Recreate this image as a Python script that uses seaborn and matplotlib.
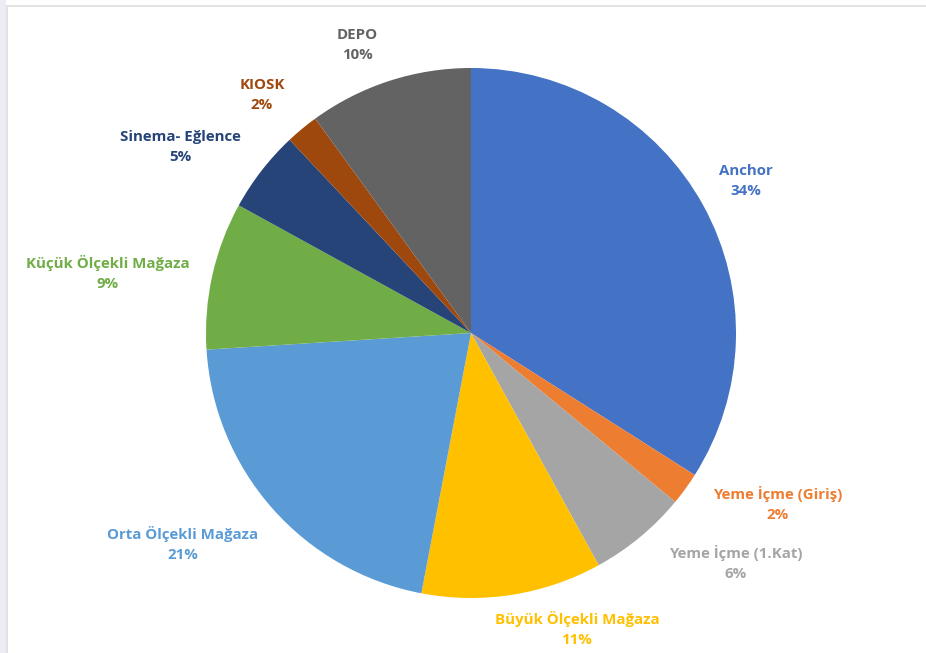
import matplotlib.pyplot as plt
import matplotlib.patches as mpatches
import seaborn as sns

sns.set_theme(style="white")
plt.rcParams['font.family'] = ['Open Sans', 'DejaVu Sans']

# Data
categories = ['Anchor', 'Yeme İçme (Giriş)', 'Yeme İçme (1.Kat)', 'Büyük Ölçekli Mağaza',
              'Orta Ölçekli Mağaza', 'Küçük Ölçekli Mağaza', 'Sinema- Eğlence', 'KIOSK', 'DEPO']
shares = [34, 2, 6, 11, 21, 9, 5, 2, 10]
colors = ['#4472C4', '#ED7D31', '#A5A5A5', '#FFC000', '#5B9BD5',
          '#70AD47', '#264478', '#9E480E', '#636363']

# label anchor points in pixel coords (x, y from top)
label_pos = [(746, 181), (778, 504), (736, 563), (577, 629), (183, 544),
             (108, 273), (180, 147), (262, 95), (357, 45)]

W, H = 926, 653
fig = plt.figure(figsize=(W / 100, H / 100), dpi=100)
fig.patch.set_facecolor('white')

# frame of the screenshot
fig.add_artist(mpatches.Rectangle((0, 0), 6 / W, 1, transform=fig.transFigure,
                                  facecolor='#EEEBF5', edgecolor='none'))
fig.add_artist(mpatches.Rectangle((6 / W, 0), 2 / W, 1 - 5 / H, transform=fig.transFigure,
                                  facecolor='#E2E2E2', edgecolor='none'))
fig.add_artist(mpatches.Rectangle((6 / W, 1 - 7 / H), 1 - 6 / W, 2 / H, transform=fig.transFigure,
                                  facecolor='#E2E2E2', edgecolor='none'))

ax = fig.add_axes([0, 0, 1, 1])
ax.set_axis_off()
ax.pie(shares, colors=colors, startangle=90, counterclock=False,
       center=(471, H - 333), radius=265,
       wedgeprops=dict(linewidth=0, edgecolor='none'))
ax.set_xlim(0, W)
ax.set_ylim(0, H)
ax.set_aspect('equal')

for cat, val, col, (x, y) in zip(categories, shares, colors, label_pos):
    ax.text(x, H - y, f'{cat}\n{val}%', color=col, fontsize=10.8, fontweight='bold',
            ha='center', va='center', linespacing=1.6)

fig.savefig('out.png', dpi=100)
